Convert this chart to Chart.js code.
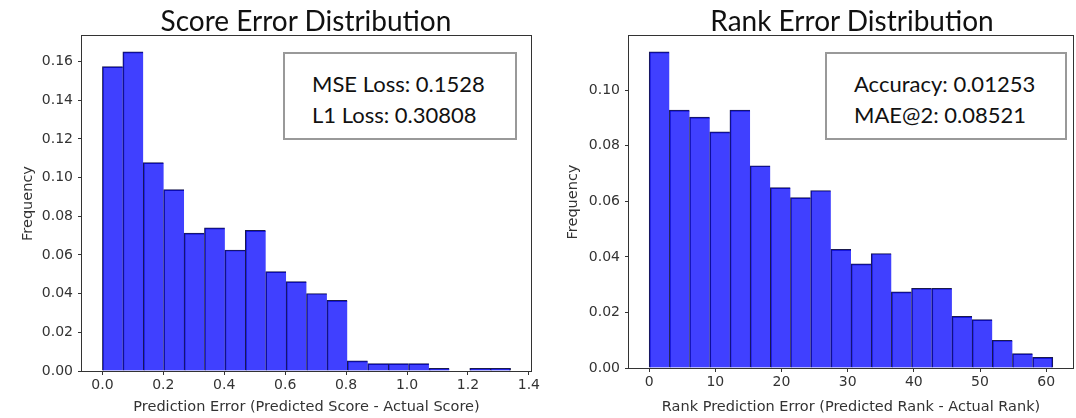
<!DOCTYPE html>
<html>
<head>
<meta charset="utf-8">
<script src="https://cdn.jsdelivr.net/npm/chart.js@4.4.0/dist/chart.umd.min.js"></script>
<style>
    body { margin: 0; background: #fff; }
    #wrap { position: relative; width: 1076px; height: 418px; overflow: hidden; }
    canvas { position: absolute; top: 0; }
    .title {
        position: absolute; top: 3px; transform: translateX(-50%);
        font-family: Lato, "Open Sans", sans-serif; font-size: 28px; line-height: 34px; color: #111; white-space: nowrap;
    }
    .stats {
        position: absolute; box-sizing: border-box; border: 2px solid #999; background: #fff;
        font-family: Lato, "Open Sans", sans-serif; font-size: 22px; line-height: 31px; color: #111;
        padding-top: 14px;
    }
</style>
</head>
<body>
<div id="wrap">
    <canvas id="scoreChart" width="550" height="418" style="left:0"></canvas>
    <canvas id="rankChart" width="536" height="418" style="left:540px"></canvas>
    <div class="title" style="left:306px">Score Error Distribution</div>
    <div class="title" style="left:852px">Rank Error Distribution</div>
    <div class="stats" style="left:283px; top:52px; width:234px; height:88px; padding-left:27px">
        MSE Loss: 0.1528<br>L1 Loss: 0.30808
    </div>
    <div class="stats" style="left:825px; top:52px; width:242px; height:88px; padding-left:27px">
        Accuracy: 0.01253<br>MAE@2: 0.08521
    </div>
</div>
<script>
// ------------------------------------------------------------
// Dados
// ------------------------------------------------------------
const scoreBinStart = 0;
const scoreBinWidth = 0.067;
const scoreFreq = [0.1574, 0.1650, 0.1078, 0.0938, 0.0713, 0.0740, 0.0626, 0.0727, 0.0514, 0.0462,
                   0.0401, 0.0365, 0.0052, 0.0038, 0.0038, 0.0038, 0.0014, 0, 0.0014, 0.0014];
const scoreXTicks = [0, 0.2, 0.4, 0.6, 0.8, 1.0, 1.2, 1.4];
const scoreYTicks = [0, 0.02, 0.04, 0.06, 0.08, 0.10, 0.12, 0.14, 0.16];

const rankBinStart = 0;
const rankBinWidth = 3.05;
const rankFreq = [0.1138, 0.0928, 0.0903, 0.0850, 0.0928, 0.0728, 0.0649, 0.0613, 0.0639, 0.0427,
                  0.0375, 0.0412, 0.0274, 0.0287, 0.0287, 0.0186, 0.0174, 0.0100, 0.0052, 0.0038];
const rankXTicks = [0, 10, 20, 30, 40, 50, 60];
const rankYTicks = [0, 0.02, 0.04, 0.06, 0.08, 0.10];

const TICK_COLOR = '#333';
const SPINE_COLOR = '#333';

// Moldura (spines) desenhada por cima das barras, como no matplotlib
const framePlugin = {
    id: 'frame',
    afterDatasetsDraw(chart) {
        const { ctx, chartArea: a } = chart;
        ctx.save();
        ctx.strokeStyle = SPINE_COLOR;
        ctx.lineWidth = 1;
        ctx.strokeRect(Math.round(a.left) - 0.5, Math.round(a.top) - 0.5,
                       Math.round(a.right - a.left) + 1, Math.round(a.bottom - a.top) + 1);
        ctx.restore();
    }
};

function criarHistograma(canvasId, cfg) {
    const n = cfg.freq.length;
    const points = cfg.freq.map((v, i) => ({ x: cfg.start + (i + 0.5) * cfg.width, y: v }));
    const xEnd = cfg.start + n * cfg.width;
    const margin = (xEnd - cfg.start) * 0.05;

    return new Chart(document.getElementById(canvasId), {
        type: 'bar',
        data: {
            datasets: [{
                data: points,
                backgroundColor: 'rgba(0, 0, 255, 0.75)',
                borderColor: '#1a1a4e',
                borderWidth: c => ({ top: 1, left: 1, right: c.dataIndex === n - 1 ? 1 : 0, bottom: 0 }),
                borderSkipped: false,
                barPercentage: 1,
                categoryPercentage: 1
            }]
        },
        options: {
            responsive: false,
            animation: false,
            devicePixelRatio: 1,
            layout: { padding: { top: cfg.top, right: cfg.padRight, left: 0, bottom: 0 } },
            plugins: { legend: { display: false }, tooltip: { enabled: false } },
            scales: {
                x: {
                    type: 'linear',
                    offset: false,
                    min: cfg.start - margin,
                    max: xEnd + margin,
                    afterBuildTicks: s => { s.ticks = cfg.xTicks.map(v => ({ value: v })); },
                    afterFit: s => { s.height = 418 - cfg.bottom; },
                    grid: { offset: false, drawOnChartArea: false, drawTicks: true, tickLength: 4, color: TICK_COLOR },
                    border: { display: false },
                    ticks: {
                        color: TICK_COLOR, padding: 2, maxRotation: 0,
                        font: { family: 'DejaVu Sans', size: 14 },
                        callback: cfg.xFormat
                    },
                    title: {
                        display: true, text: cfg.xTitle, color: TICK_COLOR,
                        font: { family: 'DejaVu Sans', size: 14.5 },
                        padding: { top: 0, bottom: 2 }
                    }
                },
                y: {
                    min: 0,
                    max: Math.max(...cfg.freq) * 1.05,
                    afterBuildTicks: s => { s.ticks = cfg.yTicks.map(v => ({ value: v })); },
                    afterFit: s => { s.width = cfg.left; },
                    grid: { drawOnChartArea: false, drawTicks: true, tickLength: 4, color: TICK_COLOR },
                    border: { display: false },
                    ticks: {
                        color: TICK_COLOR, padding: 5,
                        font: { family: 'DejaVu Sans', size: 14 },
                        callback: v => v.toFixed(2)
                    },
                    title: {
                        display: true, text: 'Frequency', color: TICK_COLOR,
                        font: { family: 'DejaVu Sans', size: 14.5 },
                        padding: { top: cfg.yTitlePad, bottom: 0 }
                    }
                }
            }
        },
        plugins: [framePlugin]
    });
}

criarHistograma('scoreChart', {
    start: scoreBinStart, width: scoreBinWidth, freq: scoreFreq,
    xTicks: scoreXTicks, yTicks: scoreYTicks,
    xFormat: v => v.toFixed(1),
    xTitle: 'Prediction Error (Predicted Score - Actual Score)',
    left: 82, top: 36, bottom: 371, padRight: 19, yTitlePad: 20
});

criarHistograma('rankChart', {
    start: rankBinStart, width: rankBinWidth, freq: rankFreq,
    xTicks: rankXTicks, yTicks: rankYTicks,
    xFormat: v => String(v),
    xTitle: 'Rank Prediction Error (Predicted Rank - Actual Rank)',
    left: 89, top: 36, bottom: 368, padRight: 3, yTitlePad: 25
});
</script>
</body>
</html>
